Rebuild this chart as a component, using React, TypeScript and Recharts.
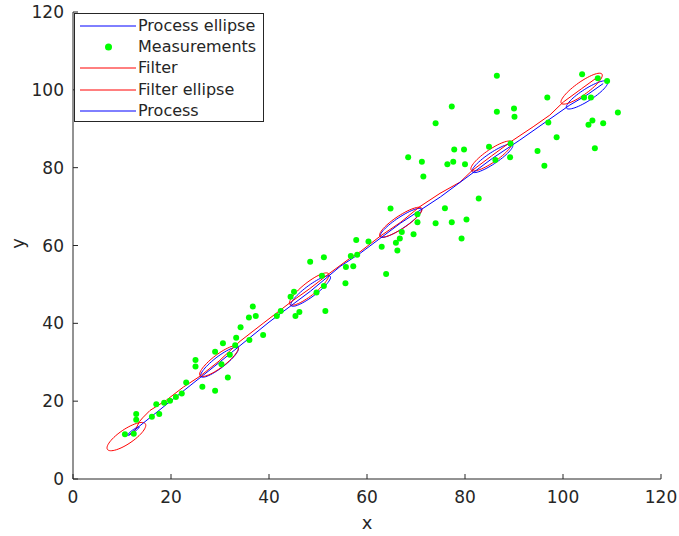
import React from "react";
import { ComposedChart, Line, Scatter, XAxis, YAxis, Legend } from "recharts";

const AXIS_COLOR = "#262626";
const BLUE = "#0000ff";
const RED = "#ff0000";
const GREEN = "#00ff00";
const FONT = "'DejaVu Sans', sans-serif";

const TICKS = [0, 20, 40, 60, 80, 100, 120];

// noisy position measurements
const measX = [
  10.6, 12.4, 12.9, 12.9, 16.1, 17.6, 17.0, 18.6, 19.8, 21.0, 22.2, 23.1, 25.0, 25.0, 26.4, 29.0, 29.0, 30.6,
  30.3, 31.6, 32.0, 33.1, 33.3, 34.2, 35.9, 37.3, 36.7, 36.0, 38.8, 41.6, 42.4, 45.4, 46.2, 44.4, 45.1, 48.4,
  51.2, 49.7, 50.8, 51.2, 51.5, 55.6, 55.7, 57.2, 56.7, 58.0, 57.8, 60.3, 63.9, 63.0, 65.9, 66.2, 66.7, 67.1,
  69.5, 64.8, 70.3, 70.3, 71.5, 74.0, 75.9, 77.3, 80.3, 79.3, 82.8, 68.4, 71.2, 76.4, 77.6, 80.0, 77.8, 79.8,
  86.2, 89.2, 84.9, 89.3, 94.8, 96.2, 77.3, 74.0, 86.5, 90.0, 90.1, 97.0, 98.7, 86.5, 103.9, 107.1, 109.0,
  96.8, 104.3, 105.7, 111.2, 106.0, 105.2, 108.2, 106.5,
];
const measY = [
  11.5, 11.6, 16.7, 15.2, 16.0, 16.7, 19.2, 19.6, 20.1, 21.1, 22.0, 24.8, 30.6, 28.9, 23.7, 22.7, 32.7, 34.9,
  29.5, 26.1, 31.9, 34.4, 36.3, 39.0, 41.5, 41.9, 44.3, 35.7, 37.0, 41.9, 43.2, 41.9, 42.9, 46.8, 48.1, 55.8,
  57.0, 47.9, 52.2, 49.6, 43.2, 50.3, 54.5, 54.7, 57.3, 57.6, 61.4, 61.0, 52.7, 59.7, 60.7, 58.7, 61.8, 63.5,
  62.9, 69.5, 68.0, 66.0, 77.7, 65.7, 69.6, 66.0, 66.7, 61.8, 72.1, 82.7, 81.5, 80.9, 81.5, 80.9, 84.7, 84.7,
  82.0, 82.7, 85.4, 86.2, 84.3, 80.5, 95.7, 91.4, 94.4, 95.2, 93.1, 91.6, 87.8, 103.6, 104.0, 103.0, 102.3,
  98.0, 98.0, 98.0, 94.2, 92.1, 91.0, 91.4, 85.0,
];

// true process path
const processX = [11.3, 20.0, 29.9, 40.0, 48.5, 54.5, 58.6, 66.9, 75.0, 85.6, 91.2, 101.4, 104.9, 108.2];
const processY = [11.3, 20.1, 30.0, 40.3, 48.3, 54.6, 58.0, 65.8, 72.5, 82.4, 87.1, 96.1, 98.7, 101.6];

// filter estimate
const filterX = [
  11.5, 12.6, 13.6, 14.2, 15.7, 19.1, 22.5, 25.9, 29.8, 34.1, 38.8, 41.9, 44.6, 48.2, 52.4, 56.5, 58.6, 62.7,
  66.9, 70.8, 74.9, 79.0, 81.4, 85.4, 89.5, 93.9, 97.3, 100.1, 103.8, 107.2,
];
const filterY = [
  11.3, 12.4, 14.8, 15.7, 17.6, 20.3, 23.6, 26.4, 30.3, 35.4, 40.0, 43.0, 45.6, 48.8, 52.9, 56.7, 58.4, 62.4,
  66.0, 70.0, 73.4, 76.3, 79.2, 83.0, 86.8, 90.5, 93.5, 96.9, 100.3, 103.4,
];

// covariance ellipses: centre, semi-axes and tilt (data units / degrees)
const processEllX = [12.3, 29.9, 48.5, 66.9, 85.6, 104.9];
const processEllY = [12.3, 30.0, 48.3, 65.8, 82.4, 98.7];
const processEllA = [1.6, 5.3, 5.5, 5.5, 5.4, 5.4];
const processEllB = [0.3, 1.3, 1.3, 1.3, 1.3, 1.4];
const processEllTilt = [42, 45, 44, 41, 41, 40];

const filterEllX = [10.9, 29.8, 48.2, 66.9, 85.4, 103.8];
const filterEllY = [10.9, 30.3, 48.8, 66.0, 83.0, 100.3];
const filterEllA = [5.1, 5.4, 5.6, 5.6, 5.5, 5.6];
const filterEllB = [1.7, 1.5, 1.5, 1.5, 1.5, 1.5];
const filterEllTilt = [42, 45, 46, 41, 42, 43];

const toPoints = (xs: number[], ys: number[]) => xs.map((x, i) => ({ x, y: ys[i] }));

const ellipseOutline = (cx: number, cy: number, a: number, b: number, tilt: number) => {
  const r = (tilt * Math.PI) / 180;
  const pts = [];
  for (let deg = 0; deg <= 360; deg += 6) {
    const t = (deg * Math.PI) / 180;
    pts.push({
      x: cx + a * Math.cos(t) * Math.cos(r) - b * Math.sin(t) * Math.sin(r),
      y: cy + a * Math.cos(t) * Math.sin(r) + b * Math.sin(t) * Math.cos(r),
    });
  }
  return pts;
};

const measurements = toPoints(measX, measY);
const processLine = toPoints(processX, processY);
const filterLine = toPoints(filterX, filterY);
const processEllipses = processEllX.map((cx, i) =>
  ellipseOutline(cx, processEllY[i], processEllA[i], processEllB[i], processEllTilt[i])
);
const filterEllipses = filterEllX.map((cx, i) =>
  ellipseOutline(cx, filterEllY[i], filterEllA[i], filterEllB[i], filterEllTilt[i])
);

const legendItems = [
  { label: "Process ellipse", color: BLUE, dot: false },
  { label: "Measurements", color: GREEN, dot: true },
  { label: "Filter", color: RED, dot: false },
  { label: "Filter ellipse", color: RED, dot: false },
  { label: "Process", color: BLUE, dot: false },
];

const LegendBox = () => (
  <div
    style={{
      border: `1px solid ${AXIS_COLOR}`,
      background: "#fff",
      width: 188,
      height: 106,
      boxSizing: "content-box",
      paddingTop: 1,
      fontFamily: FONT,
      fontSize: 16,
      color: AXIS_COLOR,
    }}
  >
    {legendItems.map((it) => (
      <div key={it.label} style={{ display: "flex", alignItems: "center", height: 21.4 }}>
        <svg width={63} height={14} style={{ flex: "none" }}>
          {it.dot ? (
            <circle cx={33.5} cy={7} r={3.5} fill={it.color} />
          ) : (
            <line x1={5} x2={61} y1={7} y2={7} stroke={it.color} strokeWidth={1} />
          )}
        </svg>
        <span style={{ whiteSpace: "nowrap", lineHeight: "16px" }}>{it.label}</span>
      </div>
    ))}
  </div>
);

const YLabel = (props: any) => {
  const vb = props.viewBox || {};
  const x = (vb.x ?? 0) + 17;
  const y = (vb.y ?? 12) + (vb.height ?? 467) / 2 - 2;
  return (
    <text
      x={x}
      y={y}
      transform={`rotate(-90, ${x}, ${y})`}
      textAnchor="middle"
      dominantBaseline="central"
      fill={AXIS_COLOR}
      fontSize={18}
      fontFamily={FONT}
    >
      y
    </text>
  );
};

const tickStyle = { fill: AXIS_COLOR, fontSize: 17, fontFamily: FONT };

export default function App() {
  return (
    <div style={{ position: "absolute", left: 0, top: 0, width: 679, height: 536, background: "#fff" }}>
      <ComposedChart width={679} height={536} margin={{ top: 12, right: 18, bottom: 0, left: 0 }}>
        <XAxis
          type="number"
          dataKey="x"
          domain={[0, 120]}
          ticks={TICKS}
          allowDataOverflow
          height={57}
          tickSize={-5}
          tickMargin={17}
          stroke={AXIS_COLOR}
          tick={tickStyle}
          label={{ value: "x", position: "insideBottom", offset: 7, fill: AXIS_COLOR, fontSize: 18, fontFamily: FONT }}
        />
        <XAxis
          xAxisId="top"
          orientation="top"
          type="number"
          domain={[0, 120]}
          ticks={TICKS}
          height={0}
          tickSize={-5}
          tickFormatter={() => ""}
          stroke={AXIS_COLOR}
        />
        <YAxis
          type="number"
          dataKey="y"
          domain={[0, 120]}
          ticks={TICKS}
          allowDataOverflow
          width={73}
          tickSize={-5}
          tickMargin={14}
          stroke={AXIS_COLOR}
          tick={tickStyle}
          label={<YLabel />}
        />
        <YAxis
          yAxisId="right"
          orientation="right"
          type="number"
          domain={[0, 120]}
          ticks={TICKS}
          width={0}
          tickSize={-5}
          tickFormatter={() => ""}
          stroke={AXIS_COLOR}
        />
        <Legend
          verticalAlign="middle"
          align="center"
          layout="horizontal"
          content={() => <LegendBox />}
          wrapperStyle={{ top: 13, left: 74, width: 190, height: 109 }}
        />

        {processEllipses.map((pts, i) => (
          <Line
            key={`pe${i}`}
            data={pts}
            dataKey="y"
            type="linear"
            stroke={BLUE}
            strokeWidth={1}
            dot={false}
            activeDot={false}
            isAnimationActive={false}
          />
        ))}
        <Scatter
          data={measurements}
          dataKey="y"
          fill={GREEN}
          isAnimationActive={false}
          shape={(p: any) => <circle cx={p.cx} cy={p.cy} r={3} fill={GREEN} />}
        />
        <Line
          data={filterLine}
          dataKey="y"
          type="linear"
          stroke={RED}
          strokeWidth={1}
          dot={false}
          activeDot={false}
          isAnimationActive={false}
        />
        {filterEllipses.map((pts, i) => (
          <Line
            key={`fe${i}`}
            data={pts}
            dataKey="y"
            type="linear"
            stroke={RED}
            strokeWidth={1}
            dot={false}
            activeDot={false}
            isAnimationActive={false}
          />
        ))}
        <Line
          data={processLine}
          dataKey="y"
          type="linear"
          stroke={BLUE}
          strokeWidth={1}
          dot={false}
          activeDot={false}
          isAnimationActive={false}
        />
      </ComposedChart>
    </div>
  );
}
